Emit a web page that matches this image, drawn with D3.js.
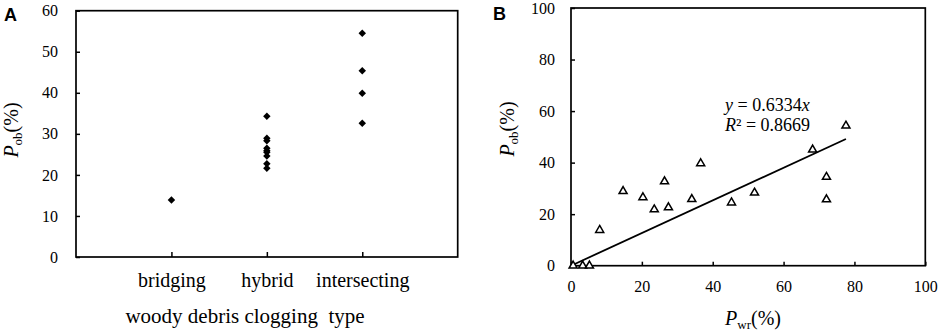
<!DOCTYPE html>
<html>
<head>
<meta charset="utf-8">
<script src="https://cdn.jsdelivr.net/npm/d3@7"></script>
<style>
  body { margin: 0; background: #fff; }
</style>
</head>
<body>
<div class="canvas"></div>
<script>
// panel A data
const categories = ['bridging', 'hybrid', 'intersecting']
const bridgingVals = [13.9]
const hybridVals = [34.3, 28.9, 28.3, 26.5, 25.9, 25.5, 24.6, 22.7, 21.6]
const intersectingVals = [54.5, 45.4, 39.9, 32.6]
const yTicksA = [0, 10, 20, 30, 40, 50, 60]

// panel B data
const pwr = [0.6, 3.3, 5.2, 8.1, 14.7, 20.3, 23.5, 26.4, 27.5, 34.1, 36.6, 45.3, 51.8, 68.2, 72.1, 72.1, 77.6]
const pob = [0, 0, 0, 13.8, 28.9, 26.5, 21.8, 32.7, 22.6, 25.8, 39.7, 24.5, 28.3, 45.0, 34.4, 25.7, 54.3]
const ticksB = [0, 20, 40, 60, 80, 100]
const slope = 0.6334
const r2 = 0.8669

const serif = '"Liberation Serif", "Times New Roman", Times, "DejaVu Serif", serif'
const sans = '"Liberation Sans", Arial, sans-serif'

const svg = d3.select('.canvas')
              .append('svg')
              .attr('width', 941)
              .attr('height', 333)
              .attr('font-family', serif)

// ---------- panel A ----------
const A = {left: 76, right: 457.7, top: 10.7, bottom: 257}
const xA = d3.scaleLinear().domain([0, 4]).range([A.left, A.right])
const yA = d3.scaleLinear().domain([0, 60]).range([A.bottom, A.top])

const gA = svg.append('g')

gA.append('g')
  .attr('transform', `translate(${A.left},0)`)
  .call(d3.axisLeft(yA).tickValues(yTicksA).tickSizeInner(-4).tickSizeOuter(0).tickPadding(18))
  .attr('font-family', serif).attr('font-size', 16)
  .call(g => g.select('.domain').remove())
  .call(g => g.selectAll('line').attr('stroke-width', 1.5))

gA.append('g')
  .attr('transform', `translate(0,${A.bottom})`)
  .call(d3.axisBottom(xA).tickValues([1, 2, 3]).tickFormat(d => categories[d - 1])
          .tickSizeInner(-5).tickSizeOuter(0).tickPadding(16))
  .attr('font-family', serif).attr('font-size', 20)
  .call(g => g.select('.domain').remove())
  .call(g => g.selectAll('line').attr('stroke-width', 1.5))

gA.append('rect')
  .attr('x', A.left).attr('y', A.top)
  .attr('width', A.right - A.left).attr('height', A.bottom - A.top)
  .attr('fill', 'none').attr('stroke', '#000').attr('stroke-width', 1.7)

const pointsA = []
bridgingVals.forEach(v => pointsA.push({c: 1, v}))
hybridVals.forEach(v => pointsA.push({c: 2, v}))
intersectingVals.forEach(v => pointsA.push({c: 3, v}))

const diamond = d3.symbol().type(d3.symbolSquare).size(28)
gA.selectAll('path.pt')
  .data(pointsA)
  .enter()
  .append('path')
  .attr('class', 'pt')
  .attr('d', diamond)
  .attr('fill', '#000')
  .attr('transform', d => `translate(${xA(d.c)},${yA(d.v)}) rotate(45)`)

// y label A
const ylA = gA.append('text')
  .attr('transform', 'translate(17.5,130) rotate(-90)')
  .attr('text-anchor', 'middle')
  .attr('font-size', 20)
ylA.append('tspan').attr('font-style', 'italic').text('P')
ylA.append('tspan').attr('font-size', 13).attr('dy', 4).text('ob')
ylA.append('tspan').attr('dy', -4).text('(%)')

gA.append('text')
  .attr('x', 245).attr('y', 323)
  .attr('text-anchor', 'middle')
  .attr('font-size', 21)
  .attr('xml:space', 'preserve')
  .text('woody debris clogging  type')

svg.append('text')
   .attr('x', 4).attr('y', 21)
   .attr('font-family', sans)
   .attr('font-weight', 'bold')
   .attr('font-size', 18)
   .text('A')

// ---------- panel B ----------
const B = {left: 571, right: 925.3, top: 8, bottom: 265.7}
const xB = d3.scaleLinear().domain([0, 100]).range([B.left, B.right])
const yB = d3.scaleLinear().domain([0, 100]).range([B.bottom, B.top])

const gB = svg.append('g')

gB.append('g')
  .attr('transform', `translate(${B.left},0)`)
  .call(d3.axisLeft(yB).tickValues(ticksB).tickSizeInner(-4).tickSizeOuter(0).tickPadding(16))
  .attr('font-family', serif).attr('font-size', 16)
  .call(g => g.select('.domain').remove())
  .call(g => g.selectAll('line').attr('stroke-width', 1.5))

gB.append('g')
  .attr('transform', `translate(0,${B.bottom})`)
  .call(d3.axisBottom(xB).tickValues(ticksB).tickSizeInner(-4).tickSizeOuter(0).tickPadding(15))
  .attr('font-family', serif).attr('font-size', 16)
  .call(g => g.select('.domain').remove())
  .call(g => g.selectAll('line').attr('stroke-width', 1.5))

gB.append('rect')
  .attr('x', B.left).attr('y', B.top)
  .attr('width', B.right - B.left).attr('height', B.bottom - B.top)
  .attr('fill', 'none').attr('stroke', '#000').attr('stroke-width', 1.7)

// trend line
const xMax = d3.max(pwr)
const line = d3.line()
               .x(d => xB(d))
               .y(d => yB(slope * d))
gB.append('path')
  .datum([0, xMax])
  .attr('d', line)
  .attr('fill', 'none')
  .attr('stroke', '#000')
  .attr('stroke-width', 1.8)

const tri = d3.symbol().type(d3.symbolTriangle).size(28)
gB.selectAll('path.tri')
  .data(pwr)
  .enter()
  .append('path')
  .attr('class', 'tri')
  .attr('d', tri)
  .attr('fill', '#fff')
  .attr('stroke', '#000')
  .attr('stroke-width', 1.5)
  .attr('transform', (d, i) => `translate(${xB(d)},${yB(pob[i])})`)

// equation
const eq1 = gB.append('text').attr('x', 725).attr('y', 111).attr('font-size', 18)
eq1.append('tspan').attr('font-style', 'italic').text('y')
eq1.append('tspan').text(` = ${slope}`)
eq1.append('tspan').attr('font-style', 'italic').text('x')

const eq2 = gB.append('text').attr('x', 725).attr('y', 131).attr('font-size', 18)
eq2.append('tspan').attr('font-style', 'italic').text('R')
eq2.append('tspan').text(`² = ${r2}`)

// y label B
const ylB = gB.append('text')
  .attr('transform', 'translate(514,129) rotate(-90)')
  .attr('text-anchor', 'middle')
  .attr('font-size', 20)
ylB.append('tspan').attr('font-style', 'italic').text('P')
ylB.append('tspan').attr('font-size', 13).attr('dy', 4).text('ob')
ylB.append('tspan').attr('dy', -4).text('(%)')

// x label B
const xlB = gB.append('text')
  .attr('x', 753).attr('y', 325)
  .attr('text-anchor', 'middle')
  .attr('font-size', 20)
xlB.append('tspan').attr('font-style', 'italic').text('P')
xlB.append('tspan').attr('font-size', 13).attr('dy', 4).text('wr')
xlB.append('tspan').attr('dy', -4).text('(%)')

svg.append('text')
   .attr('x', 493).attr('y', 20)
   .attr('font-family', sans)
   .attr('font-weight', 'bold')
   .attr('font-size', 18)
   .text('B')
</script>
</body>
</html>
